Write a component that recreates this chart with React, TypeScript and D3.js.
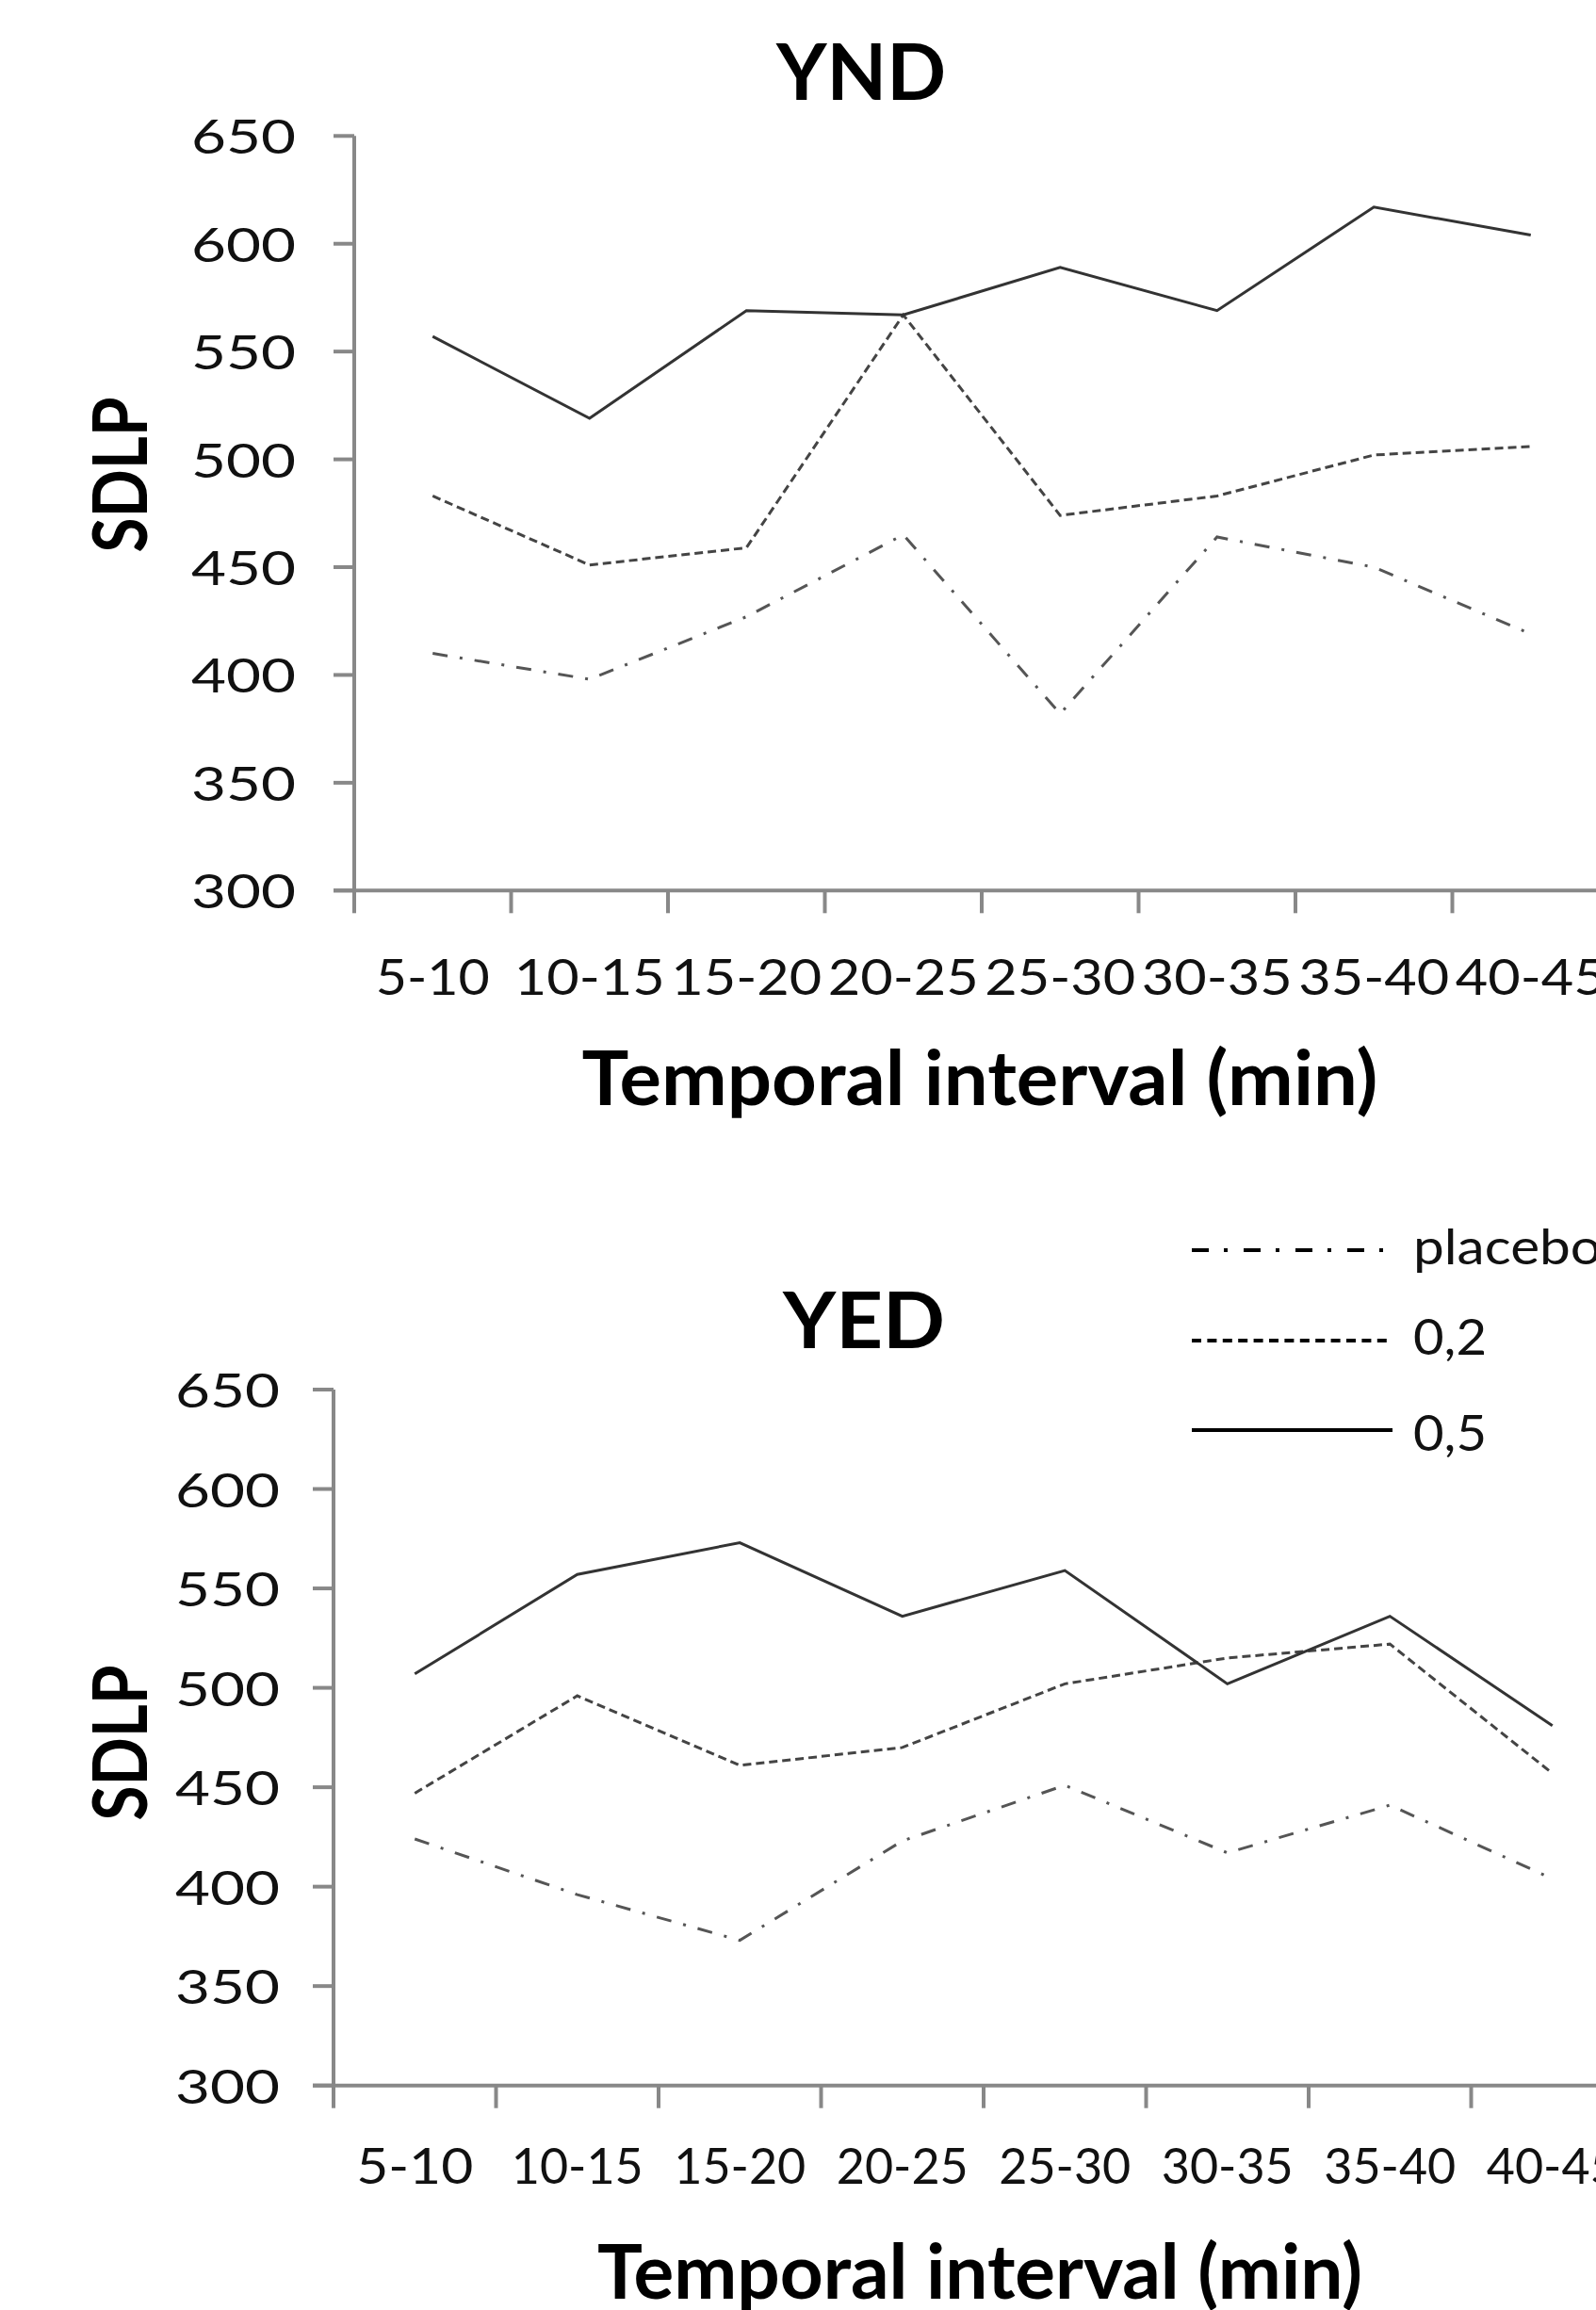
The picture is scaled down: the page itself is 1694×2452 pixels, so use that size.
import React from "react";
import * as d3 from "d3";

const categories = ["5-10", "10-15", "15-20", "20-25", "25-30", "30-35", "35-40", "40-45"];
const yTicks = [300, 350, 400, 450, 500, 550, 600, 650];
const seriesNames = ["placebo", "0,2", "0,5"];

const yndPlacebo = [410, 398, 427, 465, 382, 464, 450, 419];
const ynd02 = [483, 451, 459, 567, 474, 483, 502, 506];
const ynd05 = [557, 519, 569, 567, 589, 569, 617, 604];

const yedPlacebo = [424, 396, 373, 423, 451, 417, 441, 404];
const yed02 = [447, 496, 461, 470, 502, 515, 522, 457];
const yed05 = [507, 557, 573, 536, 559, 502, 536, 481];

const FONT = "Lato, 'Open Sans', sans-serif";

const seriesStyle = [
  { stroke: "#555", width: 3, dash: "16,13,3,13" },
  { stroke: "#444", width: 3, dash: "9,5" },
  { stroke: "#333", width: 3, dash: null },
];

type Panel = {
  title: string;
  data: number[][];
  x0: number;
  step: number;
  yTop: number;
  yBot: number;
  titleX: number;
  titleY: number;
  titleLen: number;
  yLabelRight: number;
  tickBase: number;
  tickLen4: number;
  tickLen5: number;
  sdlpY: number;
  xTitleY: number;
  xTitleLen: number;
};

const panels: Panel[] = [
  {
    title: "YND",
    data: [yndPlacebo, ynd02, ynd05],
    x0: 376, step: 166.5, yTop: 144.3, yBot: 945.3,
    titleX: 914, titleY: 106, titleLen: 180,
    yLabelRight: 314, tickBase: 1056, tickLen4: 121, tickLen5: 160,
    sdlpY: 504, xTitleY: 1173, xTitleLen: 845,
  },
  {
    title: "YED",
    data: [yedPlacebo, yed02, yed05],
    x0: 354, step: 172.5, yTop: 1475, yBot: 2213.7,
    titleX: 917, titleY: 1431, titleLen: 172,
    yLabelRight: 297, tickBase: 2318, tickLen4: 124, tickLen5: 140,
    sdlpY: 1850, xTitleY: 2440, xTitleLen: 812,
  },
];

function ChartPanel({ p }: { p: Panel }) {
  const x = d3.scaleBand<string>().domain(categories).range([p.x0, p.x0 + p.step * categories.length]).padding(0);
  const y = d3.scaleLinear().domain([300, 650]).range([p.yBot, p.yTop]);
  const cx = (c: string) => (x(c) as number) + x.bandwidth() / 2;
  const line = d3
    .line<number>()
    .x((_, i) => cx(categories[i]))
    .y((v) => y(v));
  const xEnd = p.x0 + p.step * categories.length;
  const xTickPos = d3.range(categories.length + 1).map((i) => p.x0 + i * p.step);
  return (
    <g>
      <text x={p.titleX} y={p.titleY} fontFamily={FONT} fontWeight={700} fontSize={82} textAnchor="middle"
        textLength={p.titleLen} lengthAdjust="spacingAndGlyphs" fill="#000">{p.title}</text>
      <line x1={p.x0} x2={p.x0} y1={p.yTop} y2={p.yBot} stroke="#888" strokeWidth={4} />
      <line x1={p.x0 - 22} x2={xEnd} y1={p.yBot} y2={p.yBot} stroke="#888" strokeWidth={4} />
      {yTicks.map((t) => (
        <g key={t}>
          <line x1={p.x0 - 22} x2={p.x0} y1={y(t)} y2={y(t)} stroke="#888" strokeWidth={4} />
          <text x={p.yLabelRight} y={y(t) + 19} fontFamily={FONT} fontSize={50} textAnchor="end"
            textLength={111} lengthAdjust="spacingAndGlyphs" fill="#111">{t}</text>
        </g>
      ))}
      {xTickPos.map((xp, i) => (
        <line key={i} x1={xp} x2={xp} y1={p.yBot} y2={p.yBot + 24} stroke="#888" strokeWidth={4} />
      ))}
      {categories.map((c) => (
        <text key={c} x={cx(c)} y={p.tickBase} fontFamily={FONT} fontSize={53} textAnchor="middle"
          textLength={c.length === 4 ? p.tickLen4 : p.tickLen5} lengthAdjust="spacingAndGlyphs" fill="#111">{c}</text>
      ))}
      <text transform={`translate(156,${p.sdlpY}) rotate(-90)`} fontFamily={FONT} fontWeight={700} fontSize={80}
        textAnchor="middle" textLength={165} lengthAdjust="spacingAndGlyphs" fill="#000">SDLP</text>
      <text x={1040} y={p.xTitleY} fontFamily={FONT} fontWeight={700} fontSize={80} textAnchor="middle"
        textLength={p.xTitleLen} lengthAdjust="spacingAndGlyphs" fill="#000">Temporal interval (min)</text>
      {p.data.map((vals, si) => (
        <path key={si} d={line(vals) as string} fill="none" stroke={seriesStyle[si].stroke}
          strokeWidth={seriesStyle[si].width} strokeDasharray={seriesStyle[si].dash ?? undefined}
          strokeLinejoin="miter" />
      ))}
    </g>
  );
}

function Legend() {
  const rows = [
    { y: 1327, x2: 1470, textY: 1342, len: 200 },
    { y: 1423, x2: 1478, textY: 1438, len: 78 },
    { y: 1518, x2: 1478, textY: 1540, len: 78 },
  ];
  const legendDash = ["18,16,4,17", "10,6.4", null];
  return (
    <g>
      {seriesNames.map((n, i) => (
        <g key={n}>
          <line x1={1265} x2={rows[i].x2} y1={rows[i].y} y2={rows[i].y} stroke="#000" strokeWidth={4}
            strokeDasharray={legendDash[i] ?? undefined} />
          <text x={1500} y={rows[i].textY} fontFamily={FONT} fontSize={52} textLength={rows[i].len}
            lengthAdjust="spacingAndGlyphs" fill="#111">{n}</text>
        </g>
      ))}
    </g>
  );
}

export default function App() {
  return (
    <svg width={1694} height={2452} viewBox="0 0 1694 2452"
      style={{ position: "absolute", left: 0, top: 0, background: "#fff" }}>
      <rect x={0} y={0} width={1694} height={2452} fill="#fff" />
      {panels.map((p) => (
        <ChartPanel key={p.title} p={p} />
      ))}
      <Legend />
    </svg>
  );
}
